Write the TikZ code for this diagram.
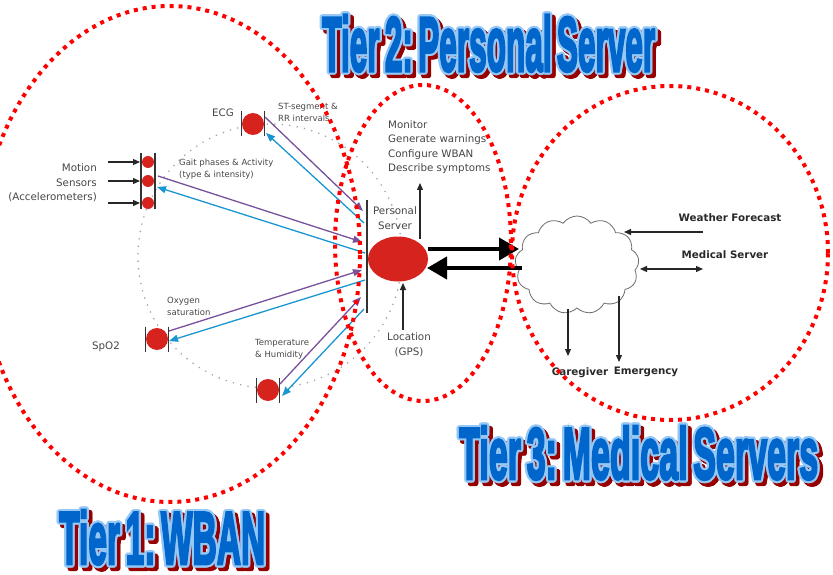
\documentclass[tikz,border=0pt]{standalone}
\usepackage{fontspec}
\usepackage{graphicx}
\usetikzlibrary{arrows.meta,shapes.geometric,shapes.symbols,calc}
\newfontfamily\labelfont{DejaVu Sans}
\newfontfamily\tierfont{Liberation Sans Bold}[FakeBold=4]

\definecolor{tierblue}{RGB}{0,102,204}
\definecolor{tierglow}{RGB}{150,200,245}
\definecolor{tiershadow}{RGB}{150,0,0}
\definecolor{uplink}{RGB}{120,80,155}
\definecolor{downlink}{RGB}{25,150,210}
\definecolor{sensorred}{RGB}{215,35,30}
\definecolor{labelgray}{RGB}{70,70,70}
\definecolor{darklabel}{RGB}{40,40,40}
\definecolor{cloudgray}{RGB}{110,110,110}

\tikzset{
  lbl/.style={font=\labelfont\fontsize{10.3}{14.5}\selectfont, text=labelgray, inner sep=0},
  smalllbl/.style={font=\labelfont\fontsize{8.5}{12}\selectfont, text=labelgray, inner sep=0, align=left},
  boldlbl/.style={font=\labelfont\bfseries\fontsize{10.3}{12}\selectfont, text=darklabel, inner sep=0},
  sensor/.style={circle, fill=sensorred, inner sep=0, minimum size=22pt},
  minisensor/.style={circle, fill=sensorred, inner sep=0, minimum size=12pt},
  sensorbar/.style={draw=black!80, line width=1.2pt},
  uparrow/.style={draw=uplink, line width=1.3pt, -{Triangle[length=9pt,width=7pt]}},
  downarrow/.style={draw=downlink, line width=1.3pt, -{Triangle[length=9pt,width=7pt]}},
  blackarrow/.style={draw=black!85, line width=1.2pt, -{Triangle[length=7pt,width=6pt]}},
  bigarrow/.style={draw=black, line width=4pt, -{Triangle[length=20pt,width=22pt]}},
  wbanring/.style={draw=gray!70, line width=1.8pt, line cap=round, dash pattern=on 0pt off 7.5pt},
  tierring/.style={draw=red, line width=4pt, dash pattern=on 4pt off 5pt},
  tiertxt/.style={anchor=base west, inner sep=0, font=\tierfont},
}

% outlined, shadowed title text: name, base point, width, height, text
\newcommand\tiertitle[5]{%
  \foreach \a in {0,30,...,330}{
    \path (#2) ++(3.5,3.5) ++(\a:2.2) node[tiertxt,text=tiershadow]{\resizebox{#3}{#4}{#5}};
  }
  \foreach \a in {0,30,...,330}{
    \path (#2) ++(\a:2.2) node[tiertxt,text=tierglow]{\resizebox{#3}{#4}{#5}};
  }
  \node[tiertxt,text=tierblue] (#1) at (#2) {\resizebox{#3}{#4}{#5}};
}

\begin{document}
\begin{tikzpicture}[x=1pt,y=-1pt]
\useasboundingbox (0,0) rectangle (833,575);

% ---------------- WBAN ----------------
\draw[wbanring] (270,256) circle[radius=132pt];

% sensors
\node[sensor] (ecg) at (253,124) {};
\node[sensor] (spo2) at (157,339) {};
\node[sensor] (temp) at (268,390) {};
\node[minisensor] (m1) at (148,162) {};
\node[minisensor] (m2) at (148,181) {};
\node[minisensor] (m3) at (148,203) {};

% sensor side bars
\foreach \s in {ecg,spo2,temp}{
  \draw[sensorbar] ($(\s.center)+(-11.5,-12.5)$) -- ($(\s.center)+(-11.5,12.5)$);
  \draw[sensorbar] ($(\s.center)+(11.5,-12.5)$) -- ($(\s.center)+(11.5,12.5)$);
}
\draw[sensorbar] ($(m1.center)+(-7,-9)$) -- ($(m3.center)+(-7,6)$);
\draw[sensorbar] ($(m1.center)+(7,-9)$) -- ($(m3.center)+(7,6)$);

% accelerometer inputs
\foreach \m in {m1,m2,m3}{
  \coordinate (\m in) at ($(\m.center)+(-40,0)$);
  \coordinate (\m tip) at ($(\m.center)+(-8,0)$);
  \draw[blackarrow] (\m in) -- (\m tip);
}

% personal server
\coordinate (psbartop) at (367,200);
\coordinate (psbarbot) at (367,313);
\draw[sensorbar] (psbartop) -- (psbarbot);
\node[ellipse, fill=sensorred, inner sep=0, minimum width=60pt, minimum height=45pt] (ps) at (398,259) {};

% radio links: sensors -> server (purple), server -> sensors (blue)
\coordinate (ecgout) at (265,117);   \coordinate (psin1) at (363,211);
\coordinate (motout) at (158,176);   \coordinate (psin2) at (362,242);
\coordinate (spoout) at (169,331);   \coordinate (psin3) at (362,270);
\coordinate (tmpout) at (280,384);   \coordinate (psin4) at (361,297);
\draw[uparrow] (ecgout) -- (psin1);
\draw[uparrow] (motout) -- (psin2);
\draw[uparrow] (spoout) -- (psin3);
\draw[uparrow] (tmpout) -- (psin4);

\coordinate (psout1) at (364,223);   \coordinate (ecgin) at (266,133);
\coordinate (psout2) at (365,253);   \coordinate (motin) at (157,187);
\coordinate (psout3) at (365,280);   \coordinate (spoin) at (169,341);
\coordinate (psout4) at (364,309);   \coordinate (tmpin) at (282,396);
\draw[downarrow] (psout1) -- (ecgin);
\draw[downarrow] (psout2) -- (motin);
\draw[downarrow] (psout3) -- (spoin);
\draw[downarrow] (psout4) -- (tmpin);

% WBAN labels
\node[lbl, anchor=east] (ecglbl) at (234,113) {ECG};
\node[lbl, anchor=east, align=right] (motlbl) at (97,183) {Motion\\Sensors\\(Accelerometers)};
\node[lbl, anchor=center] (spolbl) at (106,347) {SpO2};
\node[smalllbl, anchor=west] (stlbl) at (278,112) {ST-segment \&\\RR intervals};
\node[smalllbl, anchor=west] (gaitlbl) at (179,169) {Gait phases \& Activity\\(type \& intensity)};
\node[smalllbl, anchor=west] (oxylbl) at (167,306) {Oxygen\\saturation};
\node[smalllbl, anchor=west] (templbl) at (255,349) {Temperature\\\& Humidity};

% personal server labels
\node[lbl, align=center] (pslbl) at (395,218) {Personal\\Server};
\node[lbl, anchor=north west, align=left] (tasks) at (388,120) {Monitor\\Generate warnings\\Configure WBAN\\Describe symptoms};
\node[lbl, align=center] (gps) at (409,345) {Location\\(GPS)};
\coordinate (taskfoot) at (420,183);
\coordinate (psup) at (420,239);
\draw[blackarrow] (psup) -- (taskfoot);
\coordinate (gpstop) at (403,330);
\coordinate (psdown) at (403,283);
\draw[blackarrow] (gpstop) -- (psdown);

% ---------------- medical side ----------------
\node[cloud, cloud puffs=13, cloud puff arc=110, aspect=1.25, draw=cloudgray, line width=0.8pt,
      fill=white, inner sep=0, minimum width=124pt, minimum height=98pt] (cloud) at (577,265) {};

\coordinate (upA) at (428,249);  \coordinate (upB) at (519,249);
\coordinate (loA) at (522,268);  \coordinate (loB) at (427,268);
\draw[bigarrow] (upA) -- (upB);
\draw[bigarrow] (loA) -- (loB);

\node[boldlbl] (weather) at (730,218) {Weather Forecast};
\node[boldlbl] (medsrv) at (725,255) {Medical Server};
\node[boldlbl] (caregiver) at (580,373) {Caregiver};
\node[boldlbl] (emergency) at (646,372) {Emergency};

\coordinate (wfrom) at (703,232);  \coordinate (wto) at (624,232);
\draw[blackarrow] (wfrom) -- (wto);
\coordinate (msA) at (640,269);  \coordinate (msB) at (703,269);
\draw[blackarrow, {Triangle[length=7pt,width=6pt]}-{Triangle[length=7pt,width=6pt]}] (msA) -- (msB);
\coordinate (cgA) at (568,309);  \coordinate (cgB) at (568,356);
\draw[blackarrow] (cgA) -- (cgB);
\coordinate (emA) at (619,296);  \coordinate (emB) at (619,362);
\draw[blackarrow] (emA) -- (emB);

% ---------------- tier boundaries ----------------
\draw[tierring] (170,254) ellipse[x radius=190pt, y radius=248pt];
\draw[tierring] (423,243) ellipse[x radius=88pt, y radius=158pt];
\draw[tierring] (670,253) ellipse[x radius=158pt, y radius=167pt];

% ---------------- tier titles ----------------
\tiertitle{tiertwo}{322,71}{333pt}{56pt}{Tier\,2:\,Personal\,Server}
\tiertitle{tierthree}{459,479}{359pt}{53pt}{Tier\,3:\,Medical\,Servers}
\tiertitle{tierone}{59,564}{206pt}{54pt}{Tier\,1:\,WBAN}

\end{tikzpicture}
\end{document}
